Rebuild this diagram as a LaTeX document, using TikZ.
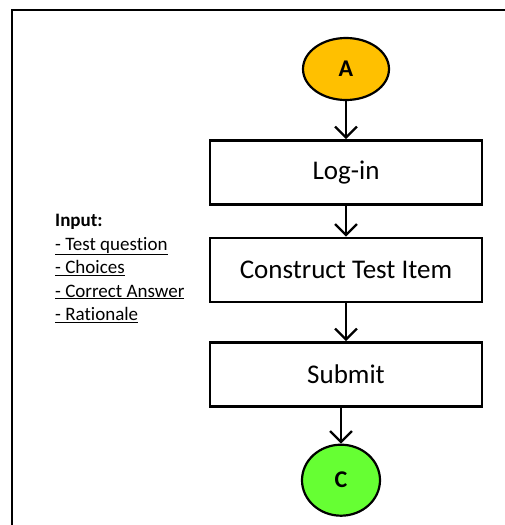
\documentclass[tikz,border=0pt]{standalone}
\usepackage{fontspec}
\setmainfont{Carlito}[Ligatures=NoCommon]
\usepackage{tikz}
\usetikzlibrary{arrows.meta,shapes.geometric,positioning}

\begin{document}
\begin{tikzpicture}[x=1pt,y=-1pt,
    stepbox/.style={draw,line width=2.5pt,minimum width=272pt,minimum height=64pt,font=\fontsize{27}{32}\selectfont},
    connector/.style={draw,ellipse,line width=2.2pt,font=\fontsize{24}{28}\selectfont\bfseries},
    flow/.style={line width=2.2pt,-{Straight Barb[length=11pt,width=22pt,line width=2.2pt]}}]
    \useasboundingbox (0,0) rectangle (505,525);
    \draw[line width=1.8pt] (12,525) -- (12,10) -- (505,10);
    \node[connector,fill={rgb,255:red,255;green,192;blue,0},minimum width=86pt,minimum height=62pt] (A) at (346,69) {A};
    \node[stepbox,below=38pt of A] (login) {Log-in};
    \node[stepbox,below=31pt of login] (construct) {Construct Test Item};
    \node[stepbox,below=38pt of construct] (submit) {Submit};
    \node[connector,fill={rgb,255:red,102;green,255;blue,51},minimum width=78pt,minimum height=71pt,below=36pt of submit,xshift=-5pt] (C) {C};
    \node[anchor=north west,align=left,inner sep=0pt,font=\fontsize{19}{23.5}\selectfont] (input) at (55,214)
        {\textbf{Input:}\\\underline{- Test question}\\\underline{- Choices}\\\underline{- Correct Answer}\\\underline{- Rationale}};

    \draw[flow] (A) -- (login);
    \draw[flow] (login) -- (construct);
    \draw[flow] (construct) -- (submit);
    \draw[flow] (submit.south -| C) -- (C);
\end{tikzpicture}
\end{document}
